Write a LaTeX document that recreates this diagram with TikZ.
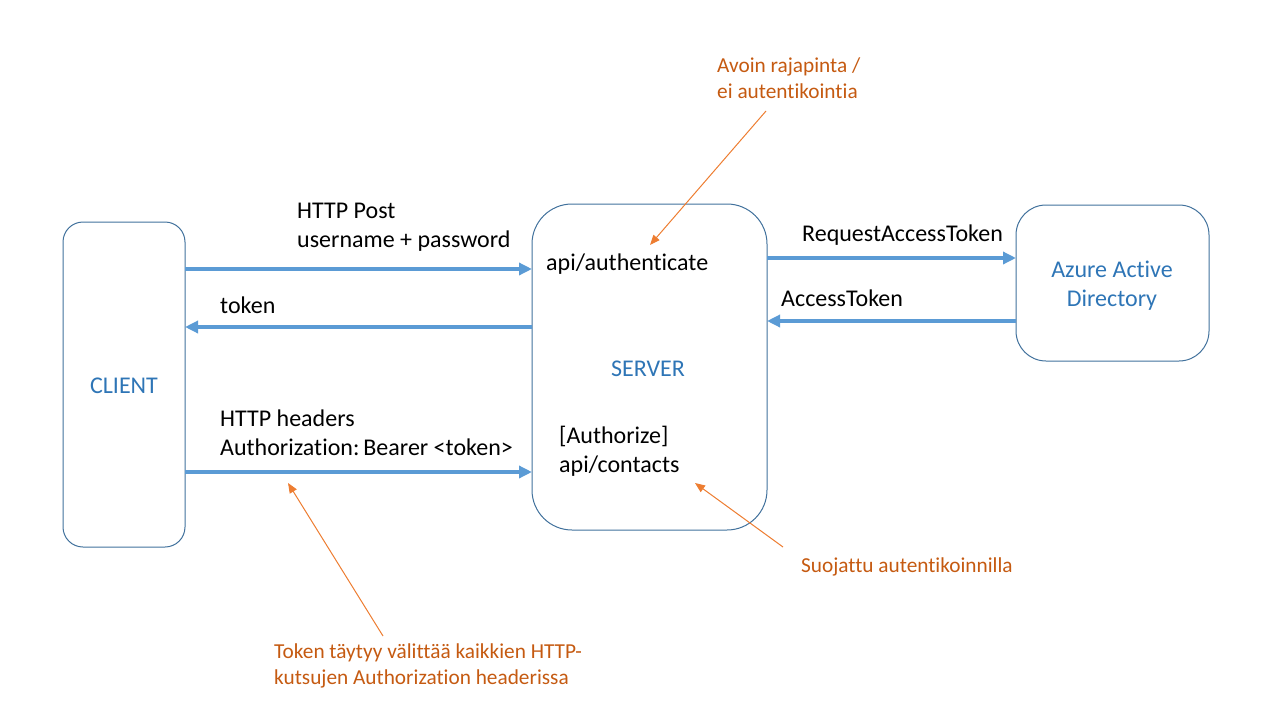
\documentclass[tikz,border=0pt]{standalone}
\usepackage{fontspec}
\setmainfont[Ligatures={NoCommon}]{Carlito}
\usetikzlibrary{arrows.meta,calc}
\definecolor{boxline}{HTML}{41719C}
\definecolor{arrowblue}{HTML}{5B9BD5}
\definecolor{textblue}{HTML}{2E75B6}
\definecolor{noteline}{HTML}{ED7D31}
\definecolor{notetext}{HTML}{C55A11}
\begin{document}
\begin{tikzpicture}[x=1pt,y=-1pt,
  box/.style={draw=boxline,line width=1pt,inner sep=0pt,outer sep=0pt,rectangle,
    font=\fontsize{24}{29}\selectfont,text=textblue,align=center},
  flow/.style={draw=arrowblue,line width=4pt,-{Triangle[length=13pt,width=12pt]}},
  note/.style={draw=noteline,line width=1pt,-{Triangle[length=10pt,width=8pt]}},
  lbl/.style={font=\fontsize{24}{29}\selectfont,anchor=west,align=left,inner sep=0pt,text=black},
  bluelbl/.style={font=\fontsize{24}{29}\selectfont,align=center,inner sep=0pt,text=textblue},
  notelbl/.style={font=\fontsize{21.3}{26}\selectfont,anchor=west,align=left,inner sep=0pt,text=notetext}]
\useasboundingbox (0,0) rectangle (1280,720);
% boxes
\node[box,rounded corners=20pt,minimum width=122pt,minimum height=325pt] (client) at (124,384.5) {};
\node[box,rounded corners=40pt,minimum width=235pt,minimum height=326pt] (server) at (649.5,367) {};
\node[box,rounded corners=30pt,minimum width=193pt,minimum height=156pt] (azure) at (1112.5,283) {};
% box labels
\node[bluelbl] (clientlbl) at (124,386) {CLIENT};
\node[bluelbl] (serverlbl) at (648,369) {SERVER};
\node[bluelbl] (azurelbl) at (1112,285.5) {Azure Active\\Directory};
% labels
\node[lbl] (post) at (297,227.5) {HTTP Post\\username + password};
\node[lbl] (token) at (220,305) {token};
\node[lbl] (headers) at (220,432.5) {HTTP headers\\Authorization:\,Bearer <token>};
\node[lbl] (req) at (802,235.5) {RequestAccessToken};
\node[lbl] (acc) at (781,298) {AccessToken};
\node[lbl] (auth) at (546,264.5) {api/authenticate};
\node[lbl] (contacts) at (559,451) {[Authorize]\\api/contacts};
% flows
\draw[flow] (client.east |- 0,269) -- (server.west |- 0,269);
\draw[flow] (server.west |- 0,327) -- (client.east |- 0,327);
\draw[flow] (client.east |- 0,472) -- (server.west |- 0,472);
\draw[flow] (server.east |- 0,258) -- (azure.west |- 0,258);
\draw[flow] (azure.west |- 0,321) -- (server.east |- 0,321);
% notes
\node[notelbl] (open) at (717,78.5) {Avoin rajapinta /\\ei autentikointia};
\node[notelbl] (prot) at (801,566.5) {Suojattu autentikoinnilla};
\node[notelbl] (tok) at (274,665.5) {Token täytyy välittää kaikkien HTTP-\\kutsujen Authorization headerissa};
\coordinate (n1s) at (766,111);
\coordinate (n1e) at (650,245);
\coordinate (n2s) at (783,547);
\coordinate (n2e) at (695,483);
\coordinate (n3s) at (383,636);
\coordinate (n3e) at (288,483);
\draw[note] (n1s) -- (n1e);
\draw[note] (n2s) -- (n2e);
\draw[note] (n3s) -- (n3e);
\end{tikzpicture}
\end{document}
